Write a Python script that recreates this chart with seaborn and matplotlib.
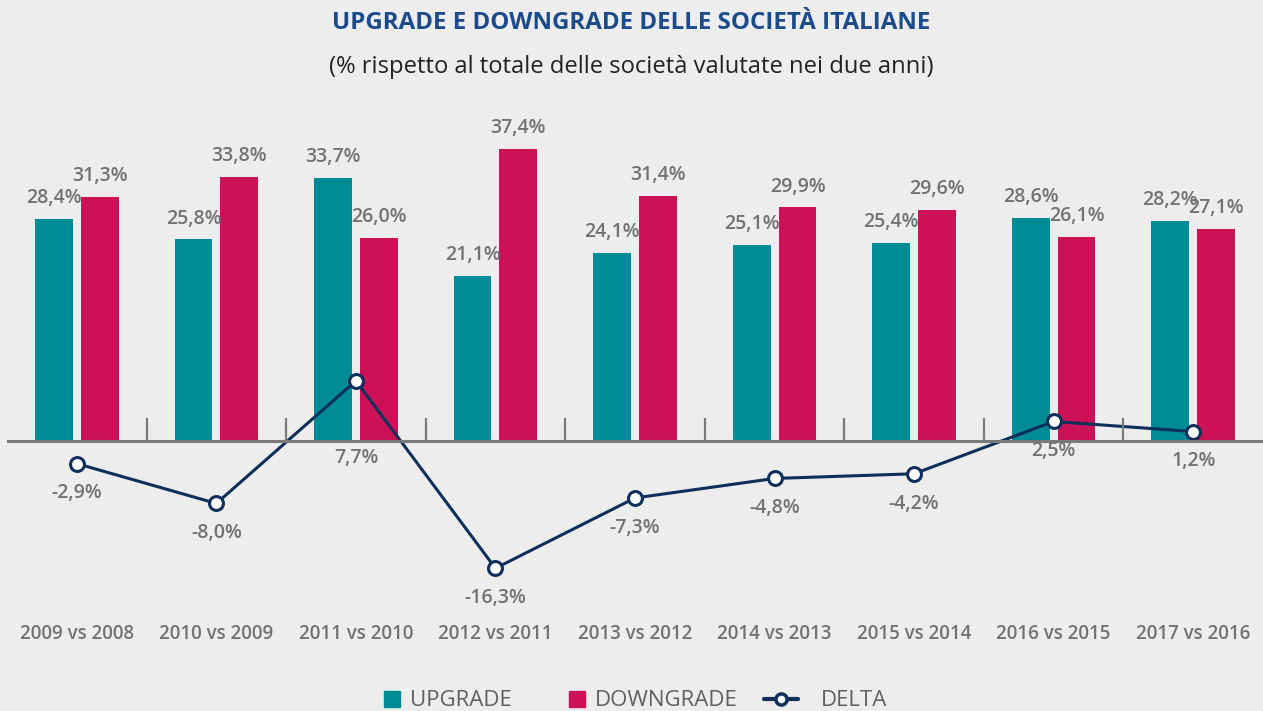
import pandas as pd
import seaborn as sns
import matplotlib.pyplot as plt
from matplotlib.lines import Line2D
from matplotlib.patches import Patch, Rectangle
from matplotlib.legend_handler import HandlerPatch

# data
periods = ['2009 vs 2008', '2010 vs 2009', '2011 vs 2010', '2012 vs 2011',
           '2013 vs 2012', '2014 vs 2013', '2015 vs 2014', '2016 vs 2015',
           '2017 vs 2016']
upgrade = [28.4, 25.8, 33.7, 21.1, 24.1, 25.1, 25.4, 28.6, 28.2]
downgrade = [31.3, 33.8, 26.0, 37.4, 31.4, 29.9, 29.6, 26.1, 27.1]
delta = [-2.9, -8.0, 7.7, -16.3, -7.3, -4.8, -4.2, 2.5, 1.2]

TEAL = '#008c96'
MAGENTA = '#cc1157'
NAVY = '#0d2f5a'
BG = '#ecedec'
GREY = '#727272'


def fmt(v):
    return f'{v:.1f}%'.replace('.', ',')


def square_patch(legend, orig_handle, xdescent, ydescent, width, height,
                 fontsize):
    # small square sitting close to the label text
    s = 11.5
    return Rectangle((width - xdescent + 8.6 - s, -ydescent + (height - s) / 2),
                     s, s)


sns.set_theme(style='white')
plt.rcParams['font.family'] = ['Open Sans', 'DejaVu Sans']

df = pd.DataFrame({
    'period': periods * 2,
    'value': upgrade + downgrade,
    'serie': ['UPGRADE'] * len(periods) + ['DOWNGRADE'] * len(periods),
})

fig = plt.figure(figsize=(12.63, 7.11), dpi=100)
fig.patch.set_facecolor(BG)
ax = fig.add_axes([7 / 1263, 99 / 711, 1 - 7 / 1263, 512 / 711])
ax.set_facecolor(BG)

sns.barplot(data=df, x='period', y='value', hue='serie',
            palette=[TEAL, MAGENTA], width=0.657, gap=0.175,
            saturation=1, legend=False, linewidth=0, edgecolor='none',
            ax=ax)

# bar labels
for cont in ax.containers:
    for bar in cont:
        h = bar.get_height()
        ax.annotate(fmt(h), (bar.get_x() + bar.get_width() / 2, h),
                    xytext=(0, 15), textcoords='offset points',
                    ha='center', va='center', fontsize=14,
                    fontweight='semibold', color=GREY)

# zero line and separators between groups
ax.axhline(0, color='#7a7a7a', lw=2.2, zorder=3)
n = len(periods)
ax.vlines([i + 0.5 for i in range(n - 1)], 0, 2.9, color='#7a7a7a',
          lw=1.6, zorder=3)

# delta line
sns.pointplot(x=periods, y=delta, color=NAVY, markers='o',
              linestyles='-', ax=ax, linewidth=2.2,
              markersize=10, markerfacecolor='white',
              markeredgecolor=NAVY, markeredgewidth=2.2)
for line in ax.lines[-1:]:
    line.set_zorder(5)

for i, v in enumerate(delta):
    if v > 5:
        y, off = 0, -12
    else:
        y, off = v, -21.5
    ax.annotate(fmt(v), (i, y), xytext=(0, off), textcoords='offset points',
                ha='center', va='center', fontsize=14,
                fontweight='semibold', color=GREY)

ax.set_xlim(-0.5, n - 0.5)
ax.set_ylim(-21.9, 43.66)
ax.set_xlabel('')
ax.set_ylabel('')
ax.set_yticks([])
ax.tick_params(axis='x', length=0, pad=8.5, labelsize=13.5, colors=GREY)
for lab in ax.get_xticklabels():
    lab.set_fontweight('semibold')
sns.despine(ax=ax, left=True, bottom=True)

fig.text(0.5, 1 - 23 / 711, 'UPGRADE E DOWNGRADE DELLE SOCIETÀ ITALIANE',
         ha='center', va='center', fontsize=17.4, fontweight='bold',
         color='#1b4b8c')
fig.text(0.5, 1 - 67 / 711,
         '(% rispetto al totale delle società valutate nei due anni)',
         ha='center', va='center', fontsize=17.1, color='#222222')

handles = [
    Patch(color=TEAL),
    Patch(color=MAGENTA),
    Line2D([], [], marker='o', color=NAVY, lw=3, markersize=8,
           markerfacecolor='white', markeredgewidth=2.5),
]
fig.legend(handles, ['UPGRADE', 'DOWNGRADE', 'DELTA'], loc='center',
           bbox_to_anchor=(620.5 / 1263, 1 - 701 / 711), ncol=3,
           frameon=False, fontsize=16, labelcolor='#606060',
           handlelength=1.53, handletextpad=1.0, columnspacing=1.2,
           handler_map={Patch: HandlerPatch(patch_func=square_patch)})

fig.savefig('out.png', dpi=100, facecolor=BG)
